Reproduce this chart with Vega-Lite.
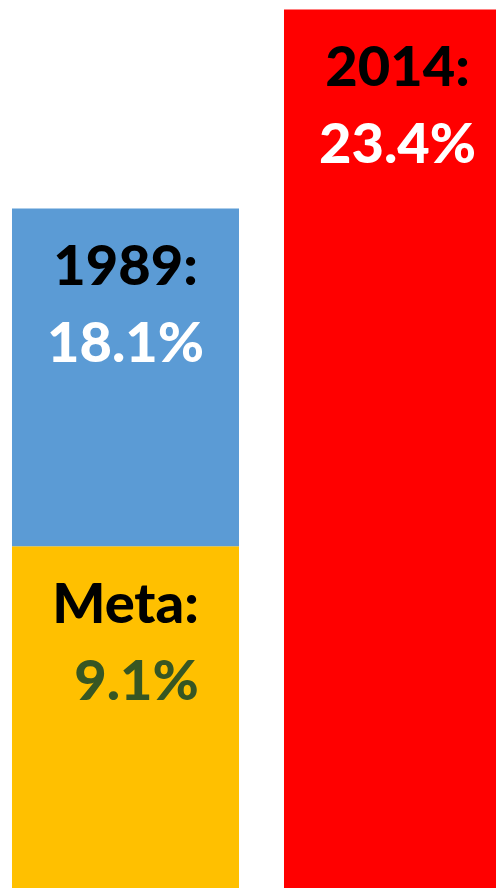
{
  "$schema": "https://vega.github.io/schema/vega-lite/v6.json",
  "width": 496,
  "height": 888,
  "padding": 0,
  "autosize": {"type": "none"},
  "background": "white",
  "config": {"view": {"stroke": null}},
  "data": {
    "values": [
      {"bar": "1989", "segment": "Meta", "value": 9.1, "top": 9.1, "label": "Meta:", "pct": "9.1%"},
      {"bar": "1989", "segment": "1989", "value": 9.0, "top": 18.1, "label": "1989:", "pct": "18.1%"},
      {"bar": "2014", "segment": "2014", "value": 23.4, "top": 23.4, "label": "2014:", "pct": "23.4%"}
    ]
  },
  "encoding": {
    "x": {
      "field": "bar",
      "type": "nominal",
      "sort": ["1989", "2014"],
      "axis": null,
      "scale": {"range": [0, 523], "paddingInner": 0.1654, "paddingOuter": 0.0441}
    }
  },
  "layer": [
    {
      "mark": {"type": "bar", "clip": true},
      "encoding": {
        "y": {
          "field": "value",
          "type": "quantitative",
          "stack": "zero",
          "axis": null,
          "scale": {"domain": [0, 23.65], "nice": false, "zero": true}
        },
        "order": {"field": "top", "type": "quantitative", "sort": "ascending"},
        "color": {
          "field": "segment",
          "type": "nominal",
          "legend": null,
          "scale": {"domain": ["Meta", "1989", "2014"], "range": ["#FFC000", "#5B9BD5", "#FF0000"]}
        }
      }
    },
    {
      "mark": {"type": "text", "font": "Lato", "fontWeight": 900, "fontSize": 56, "baseline": "alphabetic", "align": "center", "dy": 77, "color": "black", "clip": true},
      "encoding": {
        "y": {"field": "top", "type": "quantitative"},
        "text": {"field": "label"}
      }
    },
    {
      "transform": [{"filter": "datum.segment !== 'Meta'"}],
      "mark": {"type": "text", "font": "Lato", "fontWeight": 900, "fontSize": 56, "baseline": "alphabetic", "align": "center", "dy": 154, "color": "white", "clip": true},
      "encoding": {
        "y": {"field": "top", "type": "quantitative"},
        "text": {"field": "pct"}
      }
    },
    {
      "transform": [{"filter": "datum.segment === 'Meta'"}],
      "mark": {"type": "text", "font": "Lato", "fontWeight": 900, "fontSize": 56, "baseline": "alphabetic", "align": "center", "dy": 154, "dx": 11, "color": "#375623", "clip": true},
      "encoding": {
        "y": {"field": "top", "type": "quantitative"},
        "text": {"field": "pct"}
      }
    }
  ]
}
